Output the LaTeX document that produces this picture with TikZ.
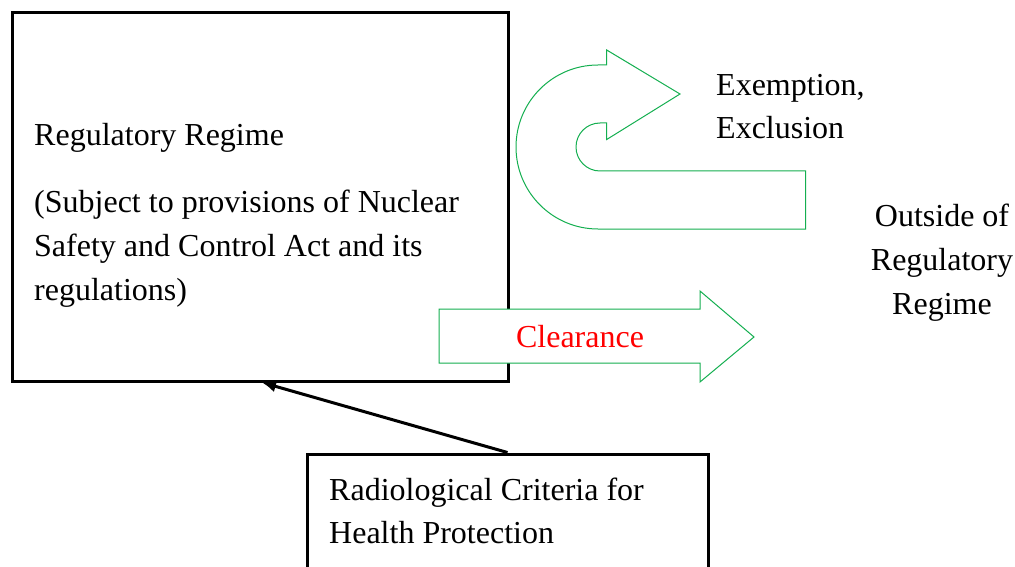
\documentclass[tikz,border=0pt]{standalone}
\usepackage{fontspec}
\setmainfont{Liberation Serif}
\usetikzlibrary{arrows.meta,calc}
\definecolor{arrgreen}{RGB}{20,175,80}
\definecolor{txtred}{RGB}{255,0,0}
\begin{document}
\begin{tikzpicture}[x=1pt,y=-1pt,
  box/.style={draw=black,line width=3pt,rectangle,inner sep=0pt},
  txt/.style={inner sep=0pt,font=\fontsize{32}{44}\selectfont},
  bigarrow/.style={draw=arrgreen,line width=1pt,fill=white,line join=miter},
  conn/.style={draw=black,line width=3pt,-{Latex[length=14pt,width=12pt]}}]
\useasboundingbox (0,0) rectangle (1015,567);
\clip (0,0) rectangle (1015,567);
% main box
\node[box,minimum width=496pt,minimum height=368pt] (reg) at (260,197) {};
\node[txt,anchor=base west] (r1) at (34,146) {Regulatory Regime};
\node[txt,anchor=base west] (r2) at (34,212) {(Subject to provisions of Nuclear};
\node[txt,anchor=base west] (r3) at (34,256) {Safety and Control Act and its};
\node[txt,anchor=base west] (r4) at (34,300) {regulations)};
% criteria box
\node[box,minimum width=401pt,minimum height=146pt] (crit) at (507.5,527) {};
\node[txt,anchor=base west] (c1) at (329,500) {Radiological Criteria for};
\node[txt,anchor=base west] (c2) at (329,543) {Health Protection};
% connector
\draw[conn] (crit.north) -- ($(reg.south)+(2,0)$);
% clearance arrow
\draw[bigarrow] (439,309) -- (700,309) -- (700,291) -- (754,337) -- (700,382) -- (700,363) -- (439,363) -- cycle;
\node[txt,text=txtred] (clr) at (580,337) {Clearance};
% U-turn arrow
\draw[bigarrow] (680,94) -- (606.7,139.5) -- (606.7,123)
  -- (600,123) arc[start angle=270,end angle=90,radius=24]
  -- (805.7,171) -- (805.7,229) -- (598,229)
  arc[start angle=90,end angle=270,radius=82]
  -- (606.7,65) -- (606.7,50) -- cycle;
\node[txt,anchor=base west] (e1) at (716,96) {Exemption,};
\node[txt,anchor=base west] (e2) at (716,139) {Exclusion};
% outside text
\node[txt,align=center,anchor=base] (o1) at (942,226) {Outside of};
\node[txt,align=center,anchor=base] (o2) at (942,270) {Regulatory};
\node[txt,align=center,anchor=base] (o3) at (942,314) {Regime};
\end{tikzpicture}
\end{document}
